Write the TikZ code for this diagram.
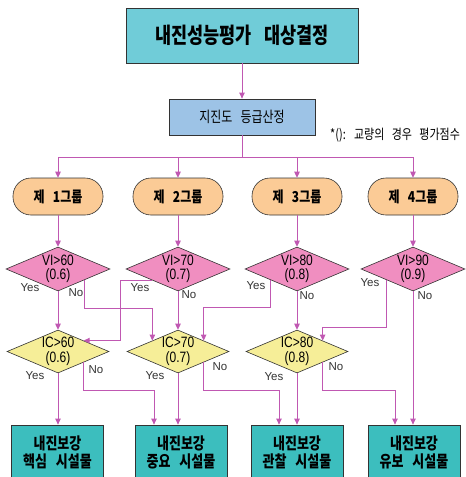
\documentclass[tikz,border=0pt]{standalone}
\usepackage{fontspec}
\usepackage{graphicx}
\setmainfont{Liberation Sans}
\newfontfamily\kr[WordSpace=3]{Noto Sans CJK KR}
\usepackage{tikz}
\usetikzlibrary{shapes.geometric,arrows.meta}
\definecolor{titlecyan}{RGB}{112,204,216}
\definecolor{subblue}{RGB}{157,195,230}
\definecolor{grouppeach}{RGB}{251,203,150}
\definecolor{vipink}{RGB}{240,142,192}
\definecolor{icyellow}{RGB}{246,238,152}
\definecolor{outteal}{RGB}{60,190,190}
\definecolor{lineviolet}{RGB}{192,88,178}
\newcommand{\tall}[1]{\scalebox{1}[1.25]{#1}}

\begin{document}
\begin{tikzpicture}[x=1pt,y=-1pt,
  wire/.style={draw=lineviolet,line width=0.9pt},
  flow/.style={wire,-{Triangle[length=6pt,width=5.5pt]}},
  titlebox/.style={draw=black!80,fill=titlecyan,line width=0.8pt,minimum width=232pt,minimum height=55pt,inner sep=0pt},
  subbox/.style={draw=black!80,fill=subblue,line width=0.8pt,minimum width=146pt,minimum height=36pt,inner sep=0pt},
  groupbox/.style={draw=black!80,fill=grouppeach,line width=0.6pt,rounded corners=18pt,minimum width=90pt,minimum height=37pt,inner sep=0pt},
  vitest/.style={diamond,aspect=2.36,draw=black!80,fill=vipink,line width=0.6pt,minimum width=104pt,minimum height=44pt,inner sep=0pt,align=center,font=\fontsize{12}{14}\selectfont},
  ictest/.style={diamond,aspect=2.36,draw=black!80,fill=icyellow,line width=0.6pt,minimum width=102pt,minimum height=43pt,inner sep=0pt,align=center,font=\fontsize{12}{15}\selectfont},
  outbox/.style={draw=black!80,fill=outteal,line width=0.8pt,minimum width=92pt,minimum height=54pt,inner sep=0pt,align=center,font=\kr\bfseries\fontsize{13}{18}\selectfont},
  answer/.style={text=black!80,inner sep=0pt,font=\fontsize{11.5}{12}\selectfont}]
\useasboundingbox (0,0) rectangle (466,477);

% top of the chart
\node[titlebox] (title) at (242,35.5) {\kr\bfseries\fontsize{17.5}{20}\selectfont\tall{내진성능평가 대상결정}};
\node[subbox] (sub) at (242,117) {\kr\fontsize{12}{14}\selectfont\tall{지진도 등급산정}};
\node[anchor=west,inner sep=0pt] (note) at (330,135) {\kr\fontsize{11}{12}\selectfont\tall{*(): 교량의 경우 평가점수}};
\coordinate (bus) at (242,157);

% groups
\node[groupbox] (g1) at (58,196.5) {\kr\bfseries\fontsize{12}{14}\selectfont\tall{제 1그룹}};
\node[groupbox] (g2) at (178,196.5) {\kr\bfseries\fontsize{12}{14}\selectfont\tall{제 2그룹}};
\node[groupbox] (g3) at (297,196.5) {\kr\bfseries\fontsize{12}{14}\selectfont\tall{제 3그룹}};
\node[groupbox] (g4) at (413,196.5) {\kr\bfseries\fontsize{12}{14}\selectfont\tall{제 4그룹}};

% VI tests
\node[vitest] (vi1) at (58,269) {\tall{VI>60}\\\tall{(0.6)}};
\node[vitest] (vi2) at (178,269) {\tall{VI>70}\\\tall{(0.7)}};
\node[vitest] (vi3) at (297,269) {\tall{VI>80}\\\tall{(0.8)}};
\node[vitest] (vi4) at (413,269) {\tall{VI>90}\\\tall{(0.9)}};

% IC tests
\node[ictest] (ic1) at (58,351.5) {\tall{IC>60}\\\tall{(0.6)}};
\node[ictest] (ic2) at (178,351.5) {\tall{IC>70}\\\tall{(0.7)}};
\node[ictest] (ic3) at (297,351.5) {\tall{IC>80}\\\tall{(0.8)}};

% results
\node[outbox] (out1) at (57.5,452) {\tall{내진보강}\\\tall{핵심 시설물}};
\node[outbox] (out2) at (181,452) {\tall{내진보강}\\\tall{중요 시설물}};
\node[outbox] (out3) at (297,452) {\tall{내진보강}\\\tall{관찰 시설물}};
\node[outbox] (out4) at (414,452) {\tall{내진보강}\\\tall{유보 시설물}};

% Yes / No
\node[answer] (y1) at (30,288) {Yes};
\node[answer] (n1) at (76,293) {No};
\node[answer] (y2) at (140,288) {Yes};
\node[answer] (n2) at (189,295) {No};
\node[answer] (y3) at (256,286) {Yes};
\node[answer] (n3) at (307,296) {No};
\node[answer] (y4) at (370,283) {Yes};
\node[answer] (n4) at (425,296) {No};
\node[answer] (y5) at (35,376) {Yes};
\node[answer] (n5) at (96,370) {No};
\node[answer] (y6) at (155,376) {Yes};
\node[answer] (n6) at (220,367) {No};
\node[answer] (y7) at (274,377) {Yes};
\node[answer] (n7) at (336,367) {No};

% connectors
\draw[flow] (title) -- (sub);
\draw[wire] (sub) -- (bus);
\draw[wire] (g1 |- bus) -- (g4 |- bus);
\draw[flow] (g1 |- bus) -- (g1);
\draw[flow] (g2 |- bus) -- (g2);
\draw[flow] (g3 |- bus) -- (g3);
\draw[flow] (g4 |- bus) -- (g4);
\draw[flow] (g1) -- (vi1);
\draw[flow] (g2) -- (vi2);
\draw[flow] (g3) -- (vi3);
\draw[flow] (g4) -- (vi4);

\draw[flow] (vi1) -- (ic1);
\draw[flow] (vi1.south east) -- ++(0,28) -| (ic2.north west);
\draw[flow] (vi2.south west) -- ++(-31,0) |- (ic1.north east);
\draw[flow] (vi2) -- (ic2);
\draw[flow] (vi3.south west) -- ++(0,27) -| (ic2.north east);
\draw[flow] (vi3) -- (ic3);
\draw[flow] (vi4.south west) -- ++(0,47) -| (ic3.north east);
\draw[flow] (vi4.south) -- (vi4.south |- out4.north);

\draw[flow] (ic1.south) -- (ic1.south |- out1.north);
\draw[flow] (ic1.south east) -- ++(0,28) -| ([xshift=-27pt]out2.north);
\draw[flow] (ic2.south) -- (ic2.south |- out2.north);
\draw[flow] (ic2.south east) -- ++(0,28) -| ([xshift=-18pt]out3.north);
\draw[flow] (ic3) -- (out3);
\draw[flow] (ic3.south east) -- ++(0,28) -| ([xshift=-19pt]out4.north);
\end{tikzpicture}
\end{document}
